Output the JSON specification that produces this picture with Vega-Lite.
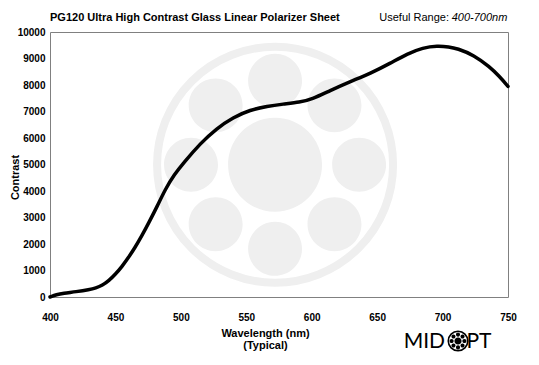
{
  "$schema": "https://vega.github.io/schema/vega-lite/v6.json",
  "autosize": "none",
  "width": 458,
  "height": 265,
  "padding": {"left": 50, "top": 32, "right": 31, "bottom": 68},
  "background": "white",
  "config": {
    "view": {"stroke": "#808080", "strokeWidth": 1},
    "text": {"font": "Liberation Sans"}
  },
  "encoding": {
    "x": {
      "field": "wavelength", "type": "quantitative",
      "scale": {"domain": [400, 750], "nice": false},
      "axis": {
        "values": [400, 450, 500, 550, 600, 650, 700, 750],
        "domain": false, "ticks": false, "tickSize": 0, "grid": false,
        "labelFont": "Liberation Sans", "labelFontSize": 10, "labelFontWeight": "bold", "labelColor": "black",
        "labelPadding": 15, "labelFlush": false, "labelOverlap": false,
        "title": ["Wavelength (nm)", "(Typical)"],
        "titleFont": "Liberation Sans", "titleFontSize": 11, "titleFontWeight": "bold", "titleColor": "black",
        "titleX": 215, "titleY": 30, "titleBaseline": "top", "titleAlign": "center", "titleLineHeight": 12.5
      }
    },
    "y": {
      "field": "contrast", "type": "quantitative",
      "scale": {"domain": [0, 10000], "nice": false},
      "axis": {
        "values": [0, 1000, 2000, 3000, 4000, 5000, 6000, 7000, 8000, 9000, 10000],
        "tickCount": 11,
        "format": "d",
        "domain": false, "ticks": false, "tickSize": 0, "grid": false,
        "labelFont": "Liberation Sans", "labelFontSize": 10, "labelFontWeight": "bold", "labelColor": "black",
        "labelPadding": 5, "labelFlush": false, "labelOverlap": false,
        "title": "Contrast",
        "titleFont": "Liberation Sans", "titleFontSize": 11, "titleFontWeight": "bold", "titleColor": "black",
        "titleAngle": 270, "titleX": -35, "titleY": 145, "titleAlign": "center", "titleBaseline": "middle"
      }
    }
  },
  "layer": [
    {
      "data": {"values": [{"wavelength": 572, "contrast": 4990}]},
      "mark": {"type": "point", "filled": false, "stroke": "#efefef", "strokeWidth": 8, "size": 55696, "opacity": 1}
    },
    {
      "data": {"values": [{"wavelength": 572, "contrast": 4990}]},
      "mark": {"type": "point", "filled": true, "fill": "#efefef", "strokeWidth": 0, "opacity": 1, "size": 59536,
        "shape": "M -0.385 0 A 0.385 0.385 0 1 0 0.385 0 A 0.385 0.385 0 1 0 -0.385 0 Z M -0.221 -0.689 A 0.221 0.221 0 1 0 0.221 -0.689 A 0.221 0.221 0 1 0 -0.221 -0.689 Z M 0.266 -0.487 A 0.221 0.221 0 1 0 0.708 -0.487 A 0.221 0.221 0 1 0 0.266 -0.487 Z M 0.468 0 A 0.221 0.221 0 1 0 0.91 0 A 0.221 0.221 0 1 0 0.468 0 Z M 0.266 0.487 A 0.221 0.221 0 1 0 0.708 0.487 A 0.221 0.221 0 1 0 0.266 0.487 Z M -0.221 0.689 A 0.221 0.221 0 1 0 0.221 0.689 A 0.221 0.221 0 1 0 -0.221 0.689 Z M -0.708 0.487 A 0.221 0.221 0 1 0 -0.266 0.487 A 0.221 0.221 0 1 0 -0.708 0.487 Z M -0.91 0 A 0.221 0.221 0 1 0 -0.468 0 A 0.221 0.221 0 1 0 -0.91 0 Z M -0.708 -0.487 A 0.221 0.221 0 1 0 -0.266 -0.487 A 0.221 0.221 0 1 0 -0.708 -0.487 Z"}
    },
    {
      "data": {"values": [
        {"wavelength": 400, "contrast": 0},
        {"wavelength": 405, "contrast": 90},
        {"wavelength": 410, "contrast": 140},
        {"wavelength": 420, "contrast": 200},
        {"wavelength": 430, "contrast": 280},
        {"wavelength": 435, "contrast": 340},
        {"wavelength": 440, "contrast": 440},
        {"wavelength": 445, "contrast": 620},
        {"wavelength": 450, "contrast": 860},
        {"wavelength": 455, "contrast": 1150},
        {"wavelength": 460, "contrast": 1490},
        {"wavelength": 465, "contrast": 1870},
        {"wavelength": 470, "contrast": 2290},
        {"wavelength": 476, "contrast": 2850},
        {"wavelength": 482, "contrast": 3430},
        {"wavelength": 488, "contrast": 4060},
        {"wavelength": 495, "contrast": 4620},
        {"wavelength": 502, "contrast": 5060},
        {"wavelength": 515, "contrast": 5800},
        {"wavelength": 527, "contrast": 6350},
        {"wavelength": 540, "contrast": 6780},
        {"wavelength": 553, "contrast": 7060},
        {"wavelength": 566, "contrast": 7200},
        {"wavelength": 578, "contrast": 7280},
        {"wavelength": 591, "contrast": 7350},
        {"wavelength": 600, "contrast": 7460},
        {"wavelength": 614, "contrast": 7790},
        {"wavelength": 629, "contrast": 8120},
        {"wavelength": 645, "contrast": 8440},
        {"wavelength": 660, "contrast": 8820},
        {"wavelength": 673, "contrast": 9180},
        {"wavelength": 685, "contrast": 9410},
        {"wavelength": 696, "contrast": 9480},
        {"wavelength": 705, "contrast": 9440},
        {"wavelength": 711, "contrast": 9380},
        {"wavelength": 724, "contrast": 9130},
        {"wavelength": 736, "contrast": 8680},
        {"wavelength": 743, "contrast": 8350},
        {"wavelength": 750, "contrast": 7950}
      ]},
      "mark": {"type": "line", "color": "black", "strokeWidth": 3.5, "interpolate": "basis", "strokeCap": "round"}
    },
    {
      "data": {"values": [{"wavelength": 400, "contrast": 10415, "label": "PG120 Ultra High Contrast Glass Linear Polarizer Sheet"}]},
      "mark": {"type": "text", "align": "left", "baseline": "alphabetic", "fontSize": 11, "fontWeight": "bold", "color": "black"},
      "encoding": {"text": {"field": "label"}}
    },
    {
      "data": {"values": [{"wavelength": 704.9, "contrast": 10415, "label": "Useful Range:"}]},
      "mark": {"type": "text", "align": "right", "baseline": "alphabetic", "fontSize": 11, "color": "black"},
      "encoding": {"text": {"field": "label"}}
    },
    {
      "data": {"values": [{"wavelength": 749.5, "contrast": 10415, "label": "400-700nm"}]},
      "mark": {"type": "text", "align": "right", "baseline": "alphabetic", "fontSize": 11, "fontStyle": "italic", "color": "black"},
      "encoding": {"text": {"field": "label"}}
    },
    {
      "data": {"values": [{"wavelength": 701.9, "contrast": -1925, "label": "MID"}]},
      "mark": {"type": "text", "align": "right", "baseline": "alphabetic", "font": "Lato", "fontWeight": "normal", "fontSize": 21, "color": "black"},
      "encoding": {"text": {"field": "label"}}
    },
    {
      "data": {"values": [{"wavelength": 718.2, "contrast": -1925, "label": "PT"}]},
      "mark": {"type": "text", "align": "left", "baseline": "alphabetic", "font": "Lato", "fontWeight": "normal", "fontSize": 21, "color": "black"},
      "encoding": {"text": {"field": "label"}}
    },
    {
      "data": {"values": [{"wavelength": 711.8, "contrast": -1660}]},
      "mark": {"type": "point", "filled": false, "stroke": "black", "strokeWidth": 1.6, "size": 380, "opacity": 1}
    },
    {
      "data": {"values": [{"wavelength": 711.8, "contrast": -1660}]},
      "mark": {"type": "point", "filled": true, "fill": "black", "strokeWidth": 0, "opacity": 1, "size": 346,
        "shape": "M -0.385 0 A 0.385 0.385 0 1 0 0.385 0 A 0.385 0.385 0 1 0 -0.385 0 Z M -0.221 -0.689 A 0.221 0.221 0 1 0 0.221 -0.689 A 0.221 0.221 0 1 0 -0.221 -0.689 Z M 0.266 -0.487 A 0.221 0.221 0 1 0 0.708 -0.487 A 0.221 0.221 0 1 0 0.266 -0.487 Z M 0.468 0 A 0.221 0.221 0 1 0 0.91 0 A 0.221 0.221 0 1 0 0.468 0 Z M 0.266 0.487 A 0.221 0.221 0 1 0 0.708 0.487 A 0.221 0.221 0 1 0 0.266 0.487 Z M -0.221 0.689 A 0.221 0.221 0 1 0 0.221 0.689 A 0.221 0.221 0 1 0 -0.221 0.689 Z M -0.708 0.487 A 0.221 0.221 0 1 0 -0.266 0.487 A 0.221 0.221 0 1 0 -0.708 0.487 Z M -0.91 0 A 0.221 0.221 0 1 0 -0.468 0 A 0.221 0.221 0 1 0 -0.91 0 Z M -0.708 -0.487 A 0.221 0.221 0 1 0 -0.266 -0.487 A 0.221 0.221 0 1 0 -0.708 -0.487 Z"}
    }
  ]
}
